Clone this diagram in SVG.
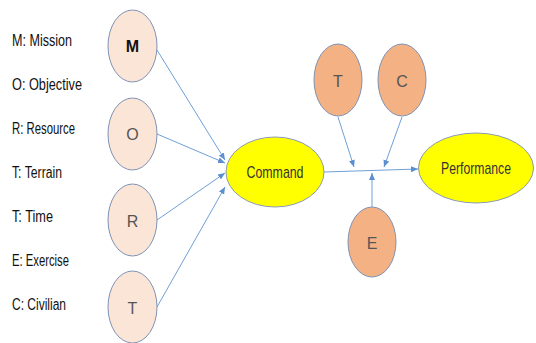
<svg xmlns="http://www.w3.org/2000/svg" width="536" height="343" viewBox="0 0 536 343">
<style>
.lbl{font-family:"Liberation Sans",Arial,sans-serif;font-size:16px;fill:#111}
.light ellipse{fill:#fbe5d6;stroke:#7f93b5;stroke-width:1}
.dark ellipse{fill:#f4b183;stroke:#7f93b5;stroke-width:1}
.yel ellipse{fill:#ffff00;stroke:#8a9ab5;stroke-width:1}
.nt{font-family:"Liberation Sans",Arial,sans-serif;font-size:16px;fill:#555;text-anchor:middle}
.big{font-family:"Liberation Sans",Arial,sans-serif;font-size:17px;fill:#333;text-anchor:middle}
.conn line{stroke:#6fa0d8;stroke-width:1;marker-end:url(#ah)}
</style>
<defs>
<marker id="ah" markerWidth="8" markerHeight="8" refX="7" refY="4" orient="auto" markerUnits="userSpaceOnUse">
<path d="M0,1 L7,4 L0,7 Z" fill="#5b8fcf"/>
</marker>
</defs>
<rect width="536" height="343" fill="#fff"/>
<g id="legend">
<text class="lbl" x="12" y="46" textLength="60" lengthAdjust="spacingAndGlyphs">M: Mission</text>
<text class="lbl" x="12" y="90" textLength="70" lengthAdjust="spacingAndGlyphs">O: Objective</text>
<text class="lbl" x="12" y="134" textLength="63" lengthAdjust="spacingAndGlyphs">R: Resource</text>
<text class="lbl" x="12" y="178" textLength="50" lengthAdjust="spacingAndGlyphs">T: Terrain</text>
<text class="lbl" x="12" y="222" textLength="41" lengthAdjust="spacingAndGlyphs">T: Time</text>
<text class="lbl" x="12" y="266" textLength="57" lengthAdjust="spacingAndGlyphs">E: Exercise</text>
<text class="lbl" x="12" y="310" textLength="54" lengthAdjust="spacingAndGlyphs">C: Civilian</text>
</g>
<g class="conn" id="connectors">
<line x1="157" y1="50" x2="225" y2="160"/>
<line x1="157" y1="134" x2="225" y2="163"/>
<line x1="157" y1="220" x2="225" y2="173"/>
<line x1="157" y1="307" x2="225" y2="187"/>
<line x1="324" y1="172" x2="418" y2="169"/>
<line x1="338" y1="117" x2="354" y2="167"/>
<line x1="402" y1="117" x2="384" y2="167"/>
<line x1="372" y1="207" x2="372" y2="173"/>
</g>
<g id="node-M" class="light"><ellipse cx="132.5" cy="46" rx="24.5" ry="36"/><text class="nt" x="132.5" y="52" style="fill:#111;font-weight:bold">M</text></g>
<g id="node-O" class="light"><ellipse cx="132.5" cy="134" rx="24.5" ry="36"/><text class="nt" x="132.5" y="140">O</text></g>
<g id="node-R" class="light"><ellipse cx="132.5" cy="220" rx="24.5" ry="36"/><text class="nt" x="132.5" y="227">R</text></g>
<g id="node-T1" class="light"><ellipse cx="132.5" cy="307" rx="24.5" ry="36"/><text class="nt" x="132.5" y="314">T</text></g>
<g id="node-Command" class="yel"><ellipse cx="275" cy="172" rx="49" ry="35"/><text class="big" x="275" y="178" textLength="57" lengthAdjust="spacingAndGlyphs">Command</text></g>
<g id="node-Performance" class="yel"><ellipse cx="476" cy="168" rx="57.5" ry="35"/><text class="big" x="476" y="174" textLength="70" lengthAdjust="spacingAndGlyphs">Performance</text></g>
<g id="node-T2" class="dark"><ellipse cx="338" cy="80" rx="24" ry="36"/><text class="nt" x="338" y="87">T</text></g>
<g id="node-C" class="dark"><ellipse cx="402" cy="80" rx="24" ry="36"/><text class="nt" x="402" y="87">C</text></g>
<g id="node-E" class="dark"><ellipse cx="372" cy="242" rx="24" ry="35"/><text class="nt" x="372" y="249">E</text></g>
</svg>
